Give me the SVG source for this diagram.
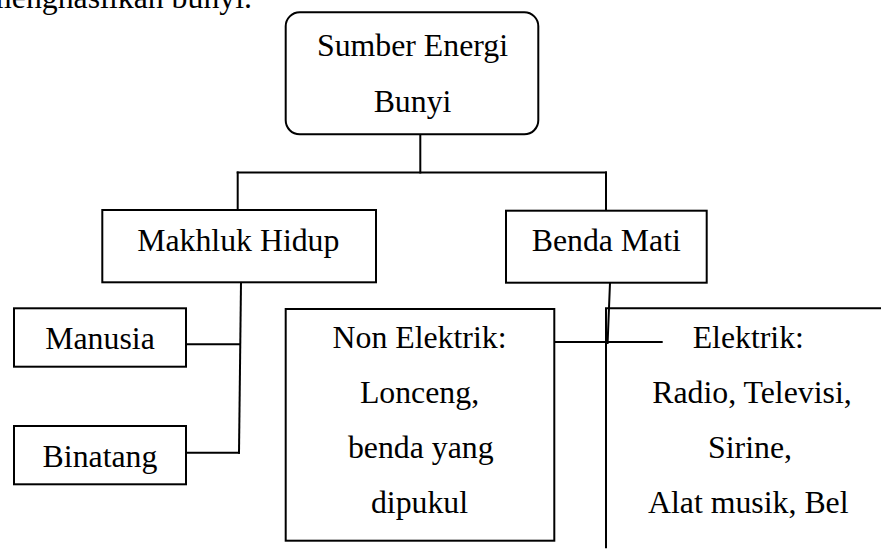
<svg xmlns="http://www.w3.org/2000/svg" width="881" height="554" viewBox="0 0 881 554">
  <style>
    .box { fill: #ffffff; stroke: #000000; stroke-width: 2; }
    .open { fill: none; stroke: #000000; stroke-width: 2; }
    .link { fill: none; stroke: #000000; stroke-width: 2; stroke-linecap: square; }
    text { font-family: "Liberation Serif", "Times New Roman", serif; font-size: 31.8px; fill: #000000; }
    .c { text-anchor: middle; }
  </style>
  <rect width="881" height="554" fill="#ffffff"/>

  <!-- tail of the preceding paragraph -->
  <text x="252" y="8" text-anchor="end">menghasilkan bunyi.</text>

  <!-- connectors -->
  <g id="connectors">
    <path class="link" d="M420.3 134.3 V172.5"/>
    <path class="link" d="M237.7 172.5 H606"/>
    <path class="link" d="M237.7 172.5 V210"/>
    <path class="link" d="M606 172.5 V210.7"/>
    <path class="link" d="M241 282.3 L239 452.7"/>
    <path class="link" d="M186 344.3 H240"/>
    <path class="link" d="M186 452.7 H239"/>
    <path class="link" d="M610 282.7 L607.6 343"/>
    <path class="link" d="M554.3 342 H661.7"/>
  </g>

  <g id="sumber-energi-bunyi">
    <rect class="box" x="285.7" y="12.3" width="252.6" height="122" rx="14" ry="14"/>
    <text class="c" x="412.5" y="56">Sumber Energi</text>
    <text class="c" x="412.5" y="111.7">Bunyi</text>
  </g>

  <g id="makhluk-hidup">
    <rect class="box" x="102.3" y="210" width="273.7" height="72.3"/>
    <text class="c" x="238.3" y="250.7">Makhluk Hidup</text>
  </g>

  <g id="benda-mati">
    <rect class="box" x="506" y="210.7" width="200.7" height="72"/>
    <text class="c" x="606.3" y="250.7">Benda Mati</text>
  </g>

  <g id="manusia">
    <rect class="box" x="14" y="308.3" width="172" height="58.4"/>
    <text class="c" x="100" y="349.3">Manusia</text>
  </g>

  <g id="binatang">
    <rect class="box" x="14" y="426" width="172" height="58.3"/>
    <text class="c" x="100" y="466.7">Binatang</text>
  </g>

  <g id="non-elektrik">
    <rect class="box" x="285.7" y="309" width="268.6" height="231.7"/>
    <text class="c" x="419.5" y="348.3">Non Elektrik:</text>
    <text class="c" x="419.5" y="402.5">Lonceng,</text>
    <text class="c" x="420.8" y="458.3">benda yang</text>
    <text class="c" x="419.5" y="513.3">dipukul</text>
  </g>

  <g id="elektrik">
    <path class="open" d="M895 308.3 H606 V548.3"/>
    <text class="c" x="748.3" y="348.3">Elektrik:</text>
    <text class="c" x="752" y="402.7">Radio, Televisi,</text>
    <text class="c" x="750" y="458.3">Sirine,</text>
    <text class="c" x="748.3" y="513.3">Alat musik, Bel</text>
  </g>
</svg>
